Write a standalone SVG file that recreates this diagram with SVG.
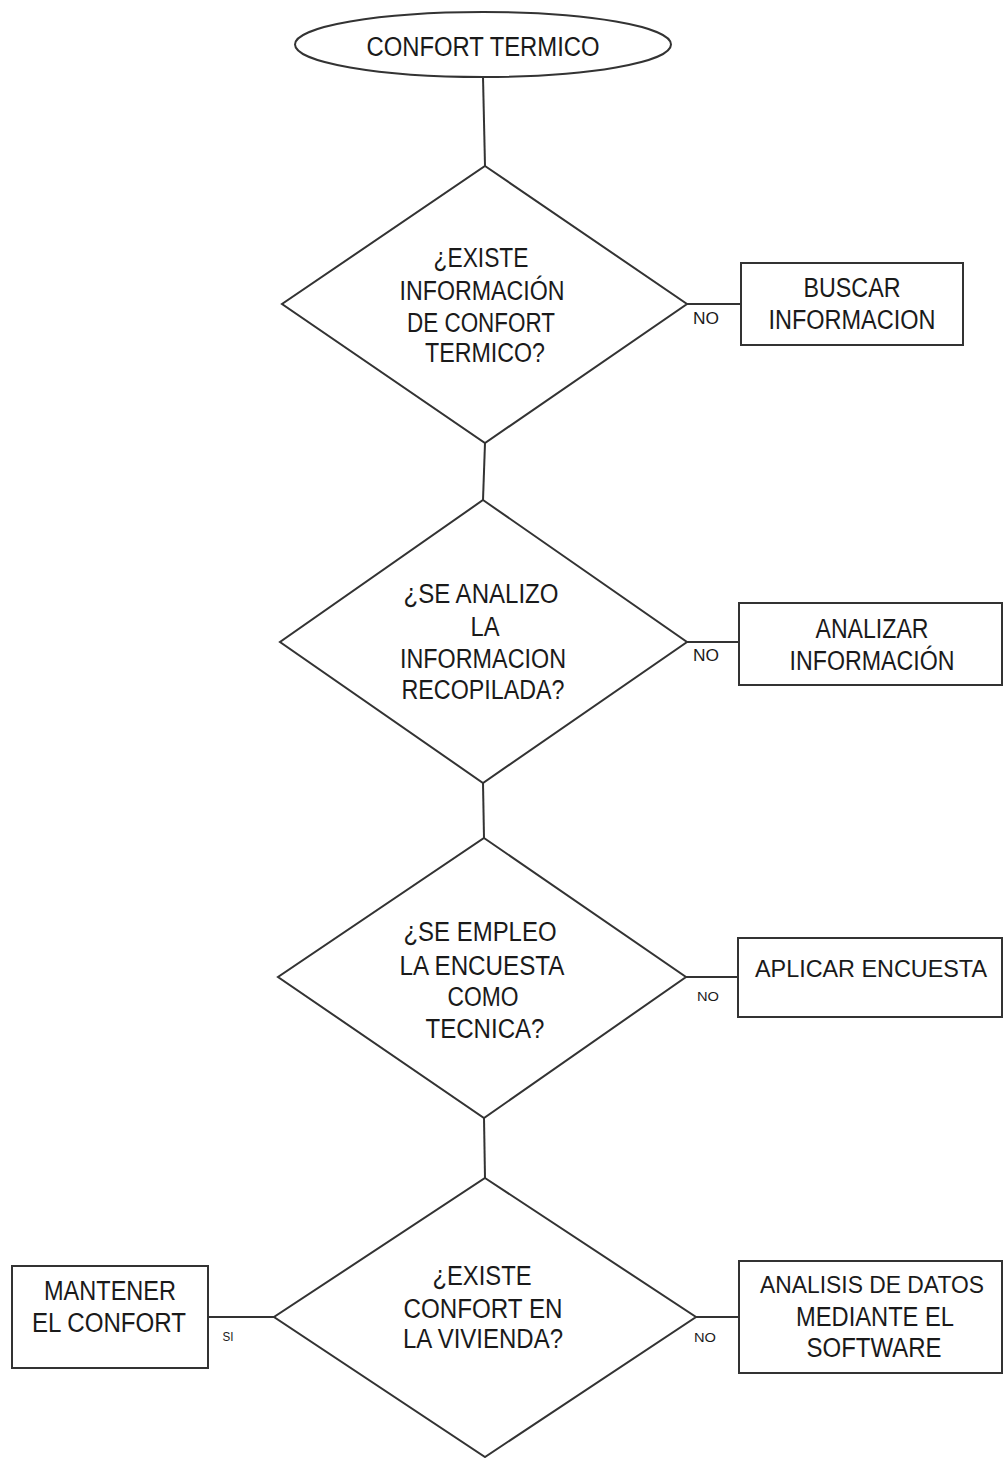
<svg xmlns="http://www.w3.org/2000/svg" width="1003" height="1458" viewBox="0 0 1003 1458">
<style>
.shape{fill:#fff;stroke:#333;stroke-width:2}
.conn{fill:none;stroke:#333;stroke-width:2}
text{font-family:"Liberation Sans",Arial,sans-serif;fill:#1a1a1a;text-anchor:middle}
.t{font-size:27px}
.tw{font-size:24px}
.lbl{font-size:16px}
.sm{font-size:13px}
</style>
<rect width="1003" height="1458" fill="#fff"/>
<g id="connectors">
<line class="conn" x1="483" y1="77" x2="485" y2="166"/>
<line class="conn" x1="485" y1="443" x2="483" y2="500"/>
<line class="conn" x1="483" y1="783" x2="484" y2="838"/>
<line class="conn" x1="484" y1="1118" x2="485" y2="1178"/>
<line class="conn" x1="687" y1="304" x2="741" y2="304"/>
<line class="conn" x1="687" y1="642" x2="739" y2="642"/>
<line class="conn" x1="686" y1="977" x2="738" y2="977"/>
<line class="conn" x1="696" y1="1317" x2="739" y2="1317"/>
<line class="conn" x1="274" y1="1317" x2="208" y2="1317"/>
<text class="lbl" x="706" y="324" textLength="26" lengthAdjust="spacingAndGlyphs">NO</text>
<text class="lbl" x="706" y="661" textLength="26" lengthAdjust="spacingAndGlyphs">NO</text>
<text class="sm" x="708" y="1001" textLength="22" lengthAdjust="spacingAndGlyphs">NO</text>
<text class="sm" x="705" y="1342" textLength="22" lengthAdjust="spacingAndGlyphs">NO</text>
<text class="sm" x="228" y="1341" textLength="11" lengthAdjust="spacingAndGlyphs">SI</text>
</g>
<g id="start">
<ellipse class="shape" cx="483" cy="44.5" rx="188" ry="32.5"/>
<text class="t" x="483" y="56" textLength="233" lengthAdjust="spacingAndGlyphs">CONFORT TERMICO</text>
</g>
<g id="decision1">
<polygon class="shape" points="485,166 687,304 485,443 282,304"/>
<text class="t" x="481" y="267" textLength="95" lengthAdjust="spacingAndGlyphs">¿EXISTE</text>
<text class="t" x="482" y="300" textLength="165" lengthAdjust="spacingAndGlyphs">INFORMACIÓN</text>
<text class="t" x="481" y="332" textLength="148" lengthAdjust="spacingAndGlyphs">DE CONFORT</text>
<text class="t" x="485" y="362" textLength="120" lengthAdjust="spacingAndGlyphs">TERMICO?</text>
</g>
<g id="buscar">
<rect class="shape" x="741" y="263" width="222" height="82"/>
<text class="t" x="852" y="297" textLength="97" lengthAdjust="spacingAndGlyphs">BUSCAR</text>
<text class="t" x="852" y="329" textLength="167" lengthAdjust="spacingAndGlyphs">INFORMACION</text>
</g>
<g id="decision2">
<polygon class="shape" points="483,500 687,642 483,783 280,642"/>
<text class="t" x="481" y="603" textLength="155" lengthAdjust="spacingAndGlyphs">¿SE ANALIZO</text>
<text class="t" x="485" y="636" textLength="29" lengthAdjust="spacingAndGlyphs">LA</text>
<text class="t" x="483" y="668" textLength="166" lengthAdjust="spacingAndGlyphs">INFORMACION</text>
<text class="t" x="483" y="699" textLength="163" lengthAdjust="spacingAndGlyphs">RECOPILADA?</text>
</g>
<g id="analizar">
<rect class="shape" x="739" y="603" width="263" height="82"/>
<text class="t" x="872" y="638" textLength="113" lengthAdjust="spacingAndGlyphs">ANALIZAR</text>
<text class="t" x="872" y="670" textLength="165" lengthAdjust="spacingAndGlyphs">INFORMACIÓN</text>
</g>
<g id="decision3">
<polygon class="shape" points="484,838 686,977 484,1118 278,977"/>
<text class="t" x="480" y="941" textLength="153" lengthAdjust="spacingAndGlyphs">¿SE EMPLEO</text>
<text class="t" x="482" y="975" textLength="165" lengthAdjust="spacingAndGlyphs">LA ENCUESTA</text>
<text class="t" x="483" y="1006" textLength="71" lengthAdjust="spacingAndGlyphs">COMO</text>
<text class="t" x="485" y="1038" textLength="119" lengthAdjust="spacingAndGlyphs">TECNICA?</text>
</g>
<g id="aplicar">
<rect class="shape" x="738" y="938" width="264" height="79"/>
<text class="tw" x="871" y="977" textLength="232" lengthAdjust="spacingAndGlyphs">APLICAR ENCUESTA</text>
</g>
<g id="decision4">
<polygon class="shape" points="485,1178 696,1317 485,1457 274,1317"/>
<text class="t" x="482" y="1285" textLength="99" lengthAdjust="spacingAndGlyphs">¿EXISTE</text>
<text class="t" x="483" y="1318" textLength="159" lengthAdjust="spacingAndGlyphs">CONFORT EN</text>
<text class="t" x="483" y="1348" textLength="160" lengthAdjust="spacingAndGlyphs">LA VIVIENDA?</text>
</g>
<g id="analisis">
<rect class="shape" x="739" y="1261" width="263" height="112"/>
<text class="tw" x="872" y="1293" textLength="224" lengthAdjust="spacingAndGlyphs">ANALISIS DE DATOS</text>
<text class="t" x="875" y="1326" textLength="158" lengthAdjust="spacingAndGlyphs">MEDIANTE EL</text>
<text class="t" x="874" y="1357" textLength="135" lengthAdjust="spacingAndGlyphs">SOFTWARE</text>
</g>
<g id="mantener">
<rect class="shape" x="12" y="1266" width="196" height="102"/>
<text class="t" x="110" y="1300" textLength="132" lengthAdjust="spacingAndGlyphs">MANTENER</text>
<text class="t" x="109" y="1332" textLength="154" lengthAdjust="spacingAndGlyphs">EL CONFORT</text>
</g>
</svg>
